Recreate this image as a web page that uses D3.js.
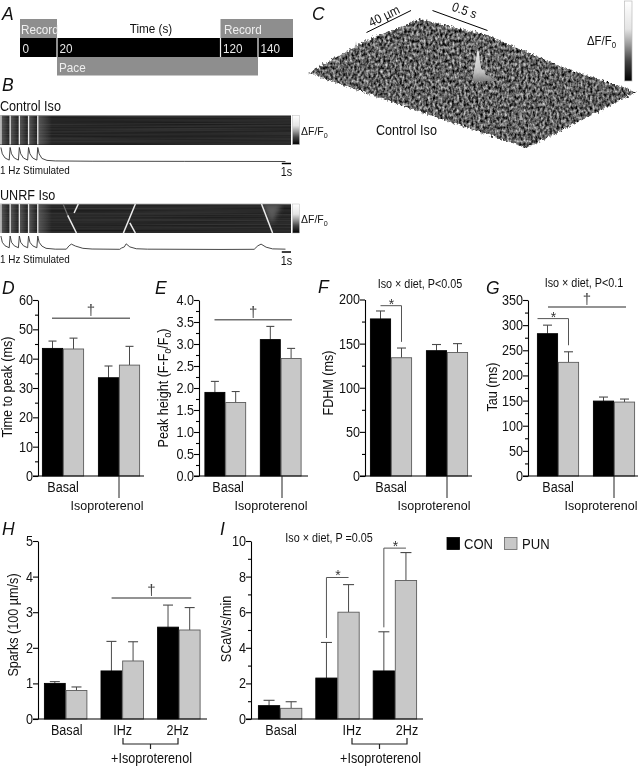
<!DOCTYPE html>
<html>
<head>
<meta charset="utf-8">
<script src="https://cdn.jsdelivr.net/npm/d3@7"></script>
<style>
    html, body { margin: 0; padding: 0; background: #fff; }
    svg { display: block; filter: blur(0.35px); }
    text { font-family: "Liberation Sans", Arial, sans-serif; fill: #111; }
</style>
</head>
<body>
<div id="chart"></div>
<script>
// Bar panel values (mean and top of the error bar)
const groupsIso = ['Basal', 'Isoproterenol'];
const groupsHz = ['Basal', 'IHz', '2Hz'];

const peakTimeCon = [43.5, 33.5];
const peakTimeConTop = [46, 37.5];
const peakTimePun = [43.3, 37.8];
const peakTimePunTop = [47, 44.2];

const peakHeightCon = [1.9, 3.1];
const peakHeightConTop = [2.15, 3.4];
const peakHeightPun = [1.67, 2.67];
const peakHeightPunTop = [1.92, 2.9];

const fdhmCon = [178, 142];
const fdhmConTop = [187, 149];
const fdhmPun = [134, 140];
const fdhmPunTop = [145, 150];

const tauCon = [283, 149];
const tauConTop = [300, 157];
const tauPun = [226, 147];
const tauPunTop = [247, 153];

const sparksCon = [1.0, 1.35, 2.58];
const sparksConTop = [1.05, 2.18, 3.2];
const sparksPun = [0.8, 1.63, 2.5];
const sparksPunTop = [0.9, 2.17, 3.13];

const scawsCon = [0.75, 2.3, 2.7];
const scawsConTop = [1.05, 4.3, 4.9];
const scawsPun = [0.6, 6.0, 7.78];
const scawsPunTop = [0.97, 7.55, 9.35];

// Protocol timeline (seconds)
const protocolTicks = [0, 20, 120, 140];
const recordWindows = [[0, 20], [120, 160]];
const paceWindow = [20, 140];

// Line scan traces: [seconds, relative fluorescence]
const pulseTimes = [0.1, 1.1, 2.1, 3.1, 4.1];
const controlTrace = [[0.1, 1], [0.25, 0.55], [0.55, 0.25], [1.0, 0.1], [1.1, 1], [1.25, 0.55], [1.55, 0.25], [2.0, 0.1], [2.1, 1], [2.25, 0.55], [2.55, 0.25], [3.0, 0.1], [3.1, 1], [3.25, 0.55], [3.55, 0.25], [4.0, 0.1], [4.1, 1], [4.25, 0.55], [4.55, 0.22], [5.1, 0.08], [6, 0.04], [10, 0.02], [20, 0.01], [31, 0]];
const unrfTrace = [[0.1, 1], [0.25, 0.55], [0.55, 0.3], [1.0, 0.16], [1.1, 1], [1.25, 0.55], [1.55, 0.3], [2.0, 0.16], [2.1, 1], [2.25, 0.55], [2.55, 0.3], [3.0, 0.16], [3.1, 1], [3.25, 0.55], [3.55, 0.3], [4.0, 0.16], [4.1, 1], [4.25, 0.55], [4.55, 0.28], [5.0, 0.12], [6, 0.06], [7.2, 0.06], [7.5, 0.3], [7.75, 0.42], [8.2, 0.28], [9, 0.12], [10, 0.07], [13, 0.05], [13.2, 0.14], [13.5, 0.22], [13.7, 0.44], [14.1, 0.22], [14.8, 0.09], [16, 0.06], [24, 0.04], [27.6, 0.05], [28, 0.3], [28.35, 0.42], [28.9, 0.2], [29.6, 0.08], [31, 0.06]];

// Spontaneous waves in the UNRF scan: [seconds, depth 0-1]
const waveSegments = [
    [[7.35, 0.39], [8.3, 1]],
    [[8.5, 0], [8.05, 0.31]],
    [[14.7, 0], [13.4, 1]],
    [[14.1, 0.65], [14.7, 1]],
    [[28.4, 0], [29.6, 1]]
];
const faintWave = [[6.85, 0], [7.35, 0.39]];
const waveTail = [[28.5, 0], [30.6, 0], [29.5, 0.7]];

// Spark rising from the 3D surface: offset along the surface and height
const sparkOffset = [-6, -4, -2, -0.5, 0.5, 2, 4, 6, 8, 11, 15, 20];
const sparkHeight = [0, 10, 22, 29, 29, 19, 11, 11, 6, 5, 2, 0];
const smallPeakOffset = [-3, -1, 0, 1, 3];
const smallPeakHeight = [0, 6, 14, 6, 0];

const width = 640;
const height = 766;
const narrow = 0.9;

const svg = d3.select('#chart').append('svg')
    .attr('width', width)
    .attr('height', height);

const defs = svg.append('defs');

// Dark-to-light colour bar gradient
const barGrad = defs.append('linearGradient').attr('id', 'colorBar')
    .attr('x1', 0).attr('y1', 0).attr('x2', 0).attr('y2', 1);
[['0%', '#ffffff'], ['35%', '#e4e4e4'], ['55%', '#999999'], ['75%', '#444444'], ['100%', '#000000']]
    .forEach(s => barGrad.append('stop').attr('offset', s[0]).attr('stop-color', s[1]));

// Fading glow behind each paced transient
const decayGrad = defs.append('linearGradient').attr('id', 'decay');
decayGrad.append('stop').attr('offset', '0%').attr('stop-color', '#8a8a8a').attr('stop-opacity', 0.5);
decayGrad.append('stop').attr('offset', '100%').attr('stop-color', '#8a8a8a').attr('stop-opacity', 0);

const sparkGrad = defs.append('linearGradient').attr('id', 'sparkFill')
    .attr('x1', 0).attr('y1', 0).attr('x2', 0).attr('y2', 1);
sparkGrad.append('stop').attr('offset', '0%').attr('stop-color', '#f4f4f4');
sparkGrad.append('stop').attr('offset', '70%').attr('stop-color', '#c4c4c4');
sparkGrad.append('stop').attr('offset', '100%').attr('stop-color', '#808080');

// Horizontal streaks of the line scan images (grey comes from the noise alpha)
defs.append('filter').attr('id', 'streaks').call(f => {
    f.attr('x', 0).attr('y', 0).attr('width', 1).attr('height', 1)
        .attr('color-interpolation-filters', 'sRGB');
    f.append('feTurbulence').attr('type', 'fractalNoise')
        .attr('baseFrequency', '0.004 0.7').attr('numOctaves', 2).attr('seed', 3);
    f.append('feColorMatrix').attr('type', 'matrix')
        .attr('values', '0 0 0 0.18 0.07  0 0 0 0.18 0.07  0 0 0 0.18 0.07  0 0 0 0 1');
});

// Speckled relief of the 3D surface, also roughens its edge
defs.append('filter').attr('id', 'relief').call(f => {
    f.attr('x', '-3%').attr('y', '-6%').attr('width', '106%').attr('height', '112%')
        .attr('color-interpolation-filters', 'sRGB');
    f.append('feTurbulence').attr('type', 'fractalNoise')
        .attr('baseFrequency', '0.42 0.3').attr('numOctaves', 2).attr('seed', 8).attr('result', 'noise');
    f.append('feColorMatrix').attr('in', 'noise').attr('type', 'matrix')
        .attr('values', '0 0 0 1.3 -0.27  0 0 0 1.3 -0.27  0 0 0 1.3 -0.27  0 0 0 0 1').attr('result', 'grey');
    f.append('feDisplacementMap').attr('in', 'SourceGraphic').attr('in2', 'noise')
        .attr('scale', 6).attr('xChannelSelector', 'R').attr('yChannelSelector', 'G').attr('result', 'shape');
    f.append('feComposite').attr('in', 'grey').attr('in2', 'shape').attr('operator', 'in');
});

defs.append('filter').attr('id', 'soft').append('feGaussianBlur').attr('stdDeviation', 2.5);

// Text helper, "_0" turns into a subscript, text is narrowed like the figure's face
function label(parent, x, y, str, opts = {}) {
    const t = parent.append('text')
        .attr('x', x)
        .attr('y', y)
        .attr('font-size', opts.size || 14)
        .attr('text-anchor', opts.anchor || 'start');
    if (opts.fill) t.style('fill', opts.fill);
    if (opts.italic) t.attr('font-style', 'italic');
    if (opts.rotate !== undefined) t.attr('transform', `rotate(${opts.rotate},${x},${y})`);
    str.split('_0').forEach((part, i) => {
        if (i > 0) {
            t.append('tspan').attr('font-size', (opts.size || 14) * 0.68).attr('dy', 3).text('0');
            if (part) t.append('tspan').attr('dy', -3).text(part);
        } else {
            t.append('tspan').text(part);
        }
    });
    const squeeze = opts.squeeze || narrow;
    if (squeeze !== 1) {
        const len = t.node().getComputedTextLength();
        t.attr('textLength', len * squeeze).attr('lengthAdjust', 'spacingAndGlyphs');
    }
    return t;
}

// Panel letters
[['A', 2, 20], ['B', 2, 91], ['C', 312, 20], ['D', 2, 294], ['E', 155, 294],
 ['F', 318, 293], ['G', 486, 294], ['H', 2, 535], ['I', 220, 535]].forEach(d => {
    label(svg, d[1], d[2], d[0], {size: 17.5, italic: true, squeeze: 1});
});

// ---- Panel A: protocol timeline ----
const protocol = svg.append('g');
const tScale = d3.scaleLinear().domain([0, 20, 120, 140, 160]).range([20, 57, 220.5, 258, 293]);

recordWindows.forEach(w => {
    protocol.append('rect')
        .attr('x', tScale(w[0])).attr('y', 19)
        .attr('width', tScale(w[1]) - tScale(w[0])).attr('height', 19)
        .attr('fill', '#8e8e8e');
});
protocol.append('rect')
    .attr('x', tScale(0)).attr('y', 38)
    .attr('width', tScale(160) - tScale(0)).attr('height', 19)
    .attr('fill', '#000');
protocol.append('rect')
    .attr('x', tScale(paceWindow[0])).attr('y', 57)
    .attr('width', tScale(paceWindow[1]) - tScale(paceWindow[0])).attr('height', 18.5)
    .attr('fill', '#8e8e8e');

protocolTicks.forEach(t => {
    if (t > 0) {
        protocol.append('line')
            .attr('x1', tScale(t)).attr('x2', tScale(t))
            .attr('y1', 38).attr('y2', 57)
            .attr('stroke', '#eee').attr('stroke-width', 1.2);
    }
    label(protocol, tScale(t) + 2.5, 53, String(t), {size: 13, fill: '#e8e8e8'});
});
label(protocol, 21, 34, 'Record', {size: 13, fill: '#f0f0f0'});
label(protocol, 224, 34, 'Record', {size: 13, fill: '#f0f0f0'});
label(protocol, 59, 72, 'Pace', {size: 13, fill: '#eeeeee'});
label(protocol, 151, 33, 'Time (s)', {size: 13, anchor: 'middle'});

// ---- Panel B: line scans ----
const scanX = d3.scaleLinear().domain([0, 31.6]).range([0, 291]);

function drawScan(top, title, trace, waves, endT, clipId) {
    const g = svg.append('g');
    const scanH = 29;
    const scanY = d3.scaleLinear().domain([0, 1]).range([top, top + scanH]);

    defs.append('clipPath').attr('id', clipId).append('rect')
        .attr('x', 0).attr('y', top).attr('width', 291).attr('height', scanH);

    label(g, 0, top - 4.5, title, {size: 14});

    g.append('rect').attr('x', 0).attr('y', top).attr('width', 291).attr('height', scanH)
        .attr('fill', '#222').attr('filter', 'url(#streaks)');
    g.append('line').attr('x1', 0).attr('x2', 291).attr('y1', top).attr('y2', top)
        .attr('stroke', '#aaa').attr('stroke-width', 0.8);

    pulseTimes.forEach((t, i) => {
        const glow = i === pulseTimes.length - 1 ? 14 : 8;
        g.append('rect')
            .attr('x', scanX(t)).attr('y', top + 0.5)
            .attr('width', glow).attr('height', scanH - 0.5)
            .attr('fill', 'url(#decay)');
    });
    pulseTimes.forEach(t => {
        g.append('line')
            .attr('x1', scanX(t)).attr('x2', scanX(t))
            .attr('y1', top).attr('y2', top + scanH)
            .attr('stroke', '#e8e8e8').attr('stroke-width', 1.3);
    });

    const waveLine = d3.line().x(d => scanX(d[0])).y(d => scanY(d[1]));
    if (waves.length) {
        // grey tail left behind the slow wave on the right
        g.append('g').attr('clip-path', `url(#${clipId})`).append('path')
            .attr('d', waveLine(waveTail) + 'Z')
            .attr('fill', '#5c5c5c')
            .attr('filter', 'url(#soft)');
        g.append('path').attr('d', waveLine(faintWave))
            .attr('fill', 'none').attr('stroke', '#6e6e6e').attr('stroke-width', 1.2);
    }
    waves.forEach(w => {
        g.append('path').attr('d', waveLine(w))
            .attr('fill', 'none').attr('stroke', '#ececec').attr('stroke-width', 1.5);
    });

    // colour bar
    g.append('rect').attr('x', 292.5).attr('y', top).attr('width', 7).attr('height', scanH)
        .attr('fill', 'url(#colorBar)').attr('stroke', '#bbb').attr('stroke-width', 0.5);
    label(g, 301, top + 19, '\u0394F/F_0', {size: 10.5, squeeze: 1});

    // trace under the image
    const traceY = d3.scaleLinear().domain([0, 1]).range([top + 46, top + 32]);
    const traceLine = d3.line().x(d => scanX(d[0])).y(d => traceY(d[1]));
    g.append('path')
        .datum(trace.filter(d => d[0] <= endT))
        .attr('d', traceLine)
        .attr('fill', 'none').attr('stroke', '#333').attr('stroke-width', 0.9);

    label(g, 0, top + 58.5, '1 Hz Stimulated', {size: 11});
    g.append('line')
        .attr('x1', scanX(30.6)).attr('x2', scanX(31.6))
        .attr('y1', top + 48).attr('y2', top + 48)
        .attr('stroke', '#000').attr('stroke-width', 1.5);
    label(g, 286.5, top + 60.5, '1s', {size: 12, anchor: 'middle'});
}

drawScan(115.5, 'Control Iso', controlTrace, [], 31.6, 'clipControl');
drawScan(204, 'UNRF Iso', unrfTrace, waveSegments, 31, 'clipUnrf');

// ---- Panel C: 3D surface ----
const surface = svg.append('g');
const surfacePath = d3.line();
surface.append('path')
    .attr('d', surfacePath([[308, 73], [365, 41], [420, 19], [487, 35], [560, 66], [637, 92], [527, 148], [400, 105]]) + 'Z')
    .attr('fill', '#000')
    .attr('filter', 'url(#relief)');

const sparkX = d3.scaleLinear().domain([-6, 20]).range([472, 498]);
const sparkY = d3.scaleLinear().domain([0, 30]).range([81, 50]);
surface.append('path')
    .attr('d', d3.area()
        .x((d, i) => sparkX(sparkOffset[i]))
        .y0(sparkY(0))
        .y1(d => sparkY(d))
        .curve(d3.curveMonotoneX)(sparkHeight))
    .attr('fill', 'url(#sparkFill)')
    .attr('opacity', 0.95);

// two fainter events
[[521, 120, 2, 12], [356, 48, 1.5, 7]].forEach(p => {
    const px = d3.scaleLinear().domain([-3, 3]).range([p[0] - p[2], p[0] + p[2]]);
    const py = d3.scaleLinear().domain([0, 14]).range([p[1], p[1] - p[3]]);
    surface.append('path')
        .attr('d', d3.area()
            .x((d, i) => px(smallPeakOffset[i]))
            .y0(py(0))
            .y1(d => py(d))(smallPeakHeight))
        .attr('fill', '#a8a8a8');
});

surface.append('line').attr('x1', 366.5).attr('y1', 32.5).attr('x2', 411).attr('y2', 10.5)
    .attr('stroke', '#000').attr('stroke-width', 1);
surface.append('line').attr('x1', 432.5).attr('y1', 10.5).attr('x2', 487.5).attr('y2', 30.5)
    .attr('stroke', '#000').attr('stroke-width', 1);
label(surface, 386, 20, '40 \u00b5m', {size: 13, anchor: 'middle', rotate: -26});
label(surface, 463, 14.5, '0.5 s', {size: 13, anchor: 'middle', rotate: 20});

surface.append('rect').attr('x', 624.5).attr('y', 1).attr('width', 7.5).attr('height', 80)
    .attr('fill', 'url(#colorBar)').attr('stroke', '#bbb').attr('stroke-width', 0.7);
label(surface, 587, 45, '\u0394F/F_0', {size: 12, squeeze: 0.95});
label(surface, 376, 135, 'Control Iso', {size: 14});

// ---- Bar panels ----
const conColor = '#000';
const punColor = '#c8c8c8';
const sigColor = '#6f6f6f';

function barPanel(p) {
    const g = svg.append('g');
    const y = d3.scaleLinear().domain([0, p.yMax]).range([p.y0, p.y1]);
    const x0 = d3.scaleBand().domain(p.groups).range(p.xRange).paddingInner(p.gap).paddingOuter(0);
    const x1 = d3.scaleBand().domain(['CON', 'PUN']).range([0, x0.bandwidth()]);
    const center = (group, series) => x0(group) + x1(series) + x1.bandwidth() / 2;

    const rows = p.groups.map((group, i) => ({group, con: p.con[i], conTop: p.conTop[i], pun: p.pun[i], punTop: p.punTop[i]}));

    [['CON', 'con', 'conTop'], ['PUN', 'pun', 'punTop']].forEach(s => {
        // error bars go first so the bars sit on top of them
        g.selectAll(null).data(rows).enter().append('line')
            .attr('x1', d => center(d.group, s[0])).attr('x2', d => center(d.group, s[0]))
            .attr('y1', d => y(d[s[1]])).attr('y2', d => y(d[s[2]]))
            .attr('stroke', '#4a4a4a').attr('stroke-width', 1);
        g.selectAll(null).data(rows).enter().append('line')
            .attr('x1', d => center(d.group, s[0]) - p.cap / 2).attr('x2', d => center(d.group, s[0]) + p.cap / 2)
            .attr('y1', d => y(d[s[2]])).attr('y2', d => y(d[s[2]]))
            .attr('stroke', '#4a4a4a').attr('stroke-width', 1.1);
        g.selectAll(null).data(rows).enter().append('rect')
            .attr('x', d => x0(d.group) + x1(s[0]) + 0.4)
            .attr('y', d => y(d[s[1]]))
            .attr('width', x1.bandwidth() - 0.8)
            .attr('height', d => y(0) - y(d[s[1]]))
            .attr('fill', s[0] === 'CON' ? conColor : punColor)
            .attr('stroke', s[0] === 'CON' ? '#000' : '#5c5c5c')
            .attr('stroke-width', 0.9);
    });

    // axes
    const yAxis = g.append('g').attr('transform', `translate(${p.xAxis},0)`)
        .call(d3.axisLeft(y).tickValues(p.ticks).tickFormat(p.format || d3.format('d')).tickSize(5).tickPadding(0).tickSizeOuter(0));
    if (p.minor) {
        g.append('g').attr('transform', `translate(${p.xAxis},0)`)
            .call(d3.axisLeft(y).tickValues(p.minor).tickFormat('').tickSize(3).tickSizeOuter(0))
            .call(a => a.select('.domain').remove());
    }
    g.selectAll('.domain, .tick line').attr('stroke', '#000').attr('stroke-width', 1.1);
    yAxis.selectAll('text')
        .attr('font-size', 14)
        .style('font-family', '"Liberation Sans", Arial, sans-serif')
        .style('fill', '#111')
        .each(function() {
            const len = this.getComputedTextLength();
            d3.select(this).attr('textLength', len * narrow).attr('lengthAdjust', 'spacingAndGlyphs');
        });
    g.append('line')
        .attr('x1', p.xAxis - 5).attr('x2', p.xEnd)
        .attr('y1', y(0)).attr('y2', y(0))
        .attr('stroke', '#000').attr('stroke-width', 1.2);

    label(g, p.yLabel[0], p.yLabel[1], p.yTitle, {size: 14, anchor: 'middle', rotate: -90});

    if (p.title) label(g, p.title[1], p.title[2], p.title[0], {size: 12, anchor: 'middle'});

    // significance lines
    (p.spans || []).forEach(s => {
        const a = x0(p.groups[s.from]) + s.fromDx;
        const b = x0(p.groups[s.to]) + s.toDx;
        g.append('line').attr('x1', a).attr('x2', b).attr('y1', y(s.at)).attr('y2', y(s.at))
            .attr('stroke', sigColor).attr('stroke-width', 1.4);
        label(g, (a + b) / 2, y(s.at) - 3, '\u2020', {size: 15, anchor: 'middle', squeeze: 1, fill: '#444'});
    });
    (p.brackets || []).forEach(b => {
        const a = center(b.group, 'CON') + (b.dx || 0);
        const e = center(b.group, 'PUN');
        const pts = b.down === 'left'
            ? [[a, y(b.end)], [a, y(b.at)], [e, y(b.at)]]
            : [[a, y(b.at)], [e, y(b.at)], [e, y(b.end)]];
        g.append('path').attr('d', d3.line()(pts))
            .attr('fill', 'none').attr('stroke', '#555').attr('stroke-width', 1);
        label(g, (a + e) / 2 + 0.5, y(b.at) + 3, '*', {size: 14, anchor: 'middle', squeeze: 1, fill: '#333'});
    });

    return {g, x0, y, center};
}

const isoFormat = d3.format('.1f');

[
    {groups: groupsIso, con: peakTimeCon, conTop: peakTimeConTop, pun: peakTimePun, punTop: peakTimePunTop,
     yMax: 60, ticks: d3.range(0, 61, 10), minor: d3.range(5, 60, 10),
     xRange: [42, 140], gap: 0.25, xAxis: 38, xEnd: 144, cap: 8, y0: 476, y1: 300,
     yTitle: 'Time to peak (ms)', yLabel: [12, 387],
     spans: [{from: 0, to: 1, fromDx: 10, toDx: 32, at: 53.8}],
     basal: 63, iso: 107, stem: 119},
    {groups: groupsIso, con: peakHeightCon, conTop: peakHeightConTop, pun: peakHeightPun, punTop: peakHeightPunTop,
     yMax: 4, ticks: d3.range(0, 4.01, 0.5), minor: d3.range(0.25, 4, 0.5), format: isoFormat,
     xRange: [204.5, 301.5], gap: 0.25, xAxis: 199, xEnd: 308, cap: 8, y0: 476, y1: 300,
     yTitle: 'Peak height (F-F_0/F_0)', yLabel: [168, 388],
     spans: [{from: 0, to: 1, fromDx: 10, toDx: 32, at: 3.55}],
     basal: 228, iso: 271, stem: 282},
    {groups: groupsIso, con: fdhmCon, conTop: fdhmConTop, pun: fdhmPun, punTop: fdhmPunTop,
     yMax: 200, ticks: d3.range(0, 201, 50), minor: d3.range(25, 200, 50),
     xRange: [370, 468], gap: 0.25, xAxis: 365, xEnd: 472, cap: 9, y0: 476, y1: 299.5,
     yTitle: 'FDHM (ms)', yLabel: [333, 383], title: ['Iso \u00d7 diet, P<0.05', 420, 288],
     brackets: [{group: 'Basal', at: 193, end: 152}],
     basal: 391, iso: 434, stem: 447},
    {groups: groupsIso, con: tauCon, conTop: tauConTop, pun: tauPun, punTop: tauPunTop,
     yMax: 350, ticks: d3.range(0, 351, 50), minor: d3.range(25, 350, 50),
     xRange: [537, 635], gap: 0.25, xAxis: 528, xEnd: 638, cap: 9, y0: 476, y1: 300,
     yTitle: 'Tau (ms)', yLabel: [497, 387], title: ['Iso \u00d7 diet, P<0.1', 584, 287],
     spans: [{from: 0, to: 1, fromDx: 11, toDx: 33, at: 336}],
     brackets: [{group: 'Basal', at: 313, end: 260, dx: -10}],
     basal: 558, iso: 601, stem: 614}
].forEach(p => {
    const panel = barPanel(p);
    label(panel.g, p.basal, 492, 'Basal', {size: 14, anchor: 'middle'});
    label(panel.g, p.iso, 510, 'Isoproterenol', {size: 13, anchor: 'middle', squeeze: 0.96});
    panel.g.append('line')
        .attr('x1', p.stem).attr('x2', p.stem).attr('y1', 476).attr('y2', 498)
        .attr('stroke', '#222').attr('stroke-width', 1);
});

[
    {groups: groupsHz, con: sparksCon, conTop: sparksConTop, pun: sparksPun, punTop: sparksPunTop,
     yMax: 5, ticks: d3.range(0, 6),
     xRange: [44, 200.5], gap: 0.235, xAxis: 38, xEnd: 207, cap: 10, y0: 719, y1: 541,
     yTitle: 'Sparks (100 \u00b5m/s)', yLabel: [17.5, 625],
     spans: [{from: 1, to: 2, fromDx: 11, toDx: 34, at: 3.4}],
     labels: [66.7, 122.7, 177.7], bracket: [123, 178]},
    {groups: groupsHz, con: scawsCon, conTop: scawsConTop, pun: scawsPun, punTop: scawsPunTop,
     yMax: 10, ticks: d3.range(0, 11, 2), minor: d3.range(1, 10, 2),
     xRange: [258, 417], gap: 0.23, xAxis: 251, xEnd: 423, cap: 11, y0: 719, y1: 541,
     yTitle: 'SCaWs/min', yLabel: [231, 629], title: ['Iso \u00d7 diet, P =0.05', 329, 542],
     brackets: [{group: 'IHz', at: 7.95, end: 4.55, down: 'left'}, {group: '2Hz', at: 9.6, end: 5.15, down: 'left'}],
     labels: [281, 352, 407], bracket: [352, 407]}
].forEach(p => {
    const panel = barPanel(p);
    p.groups.forEach((group, i) => label(panel.g, p.labels[i], 735, group, {size: 14, anchor: 'middle'}));
    const mid = (p.bracket[0] + p.bracket[1]) / 2;
    panel.g.append('path')
        .attr('d', d3.line()([[p.bracket[0], 738], [p.bracket[0], 744], [p.bracket[1], 744], [p.bracket[1], 738]]))
        .attr('fill', 'none').attr('stroke', '#222').attr('stroke-width', 1.2);
    panel.g.append('line').attr('x1', mid).attr('x2', mid).attr('y1', 744).attr('y2', 749)
        .attr('stroke', '#222').attr('stroke-width', 1.2);
    label(panel.g, mid + 1, 763, '+Isoproterenol', {size: 14, anchor: 'middle'});
});

// Legend
const legendItems = [['CON', conColor, '#000', 447, 464], ['PUN', punColor, '#666', 504.5, 522]];
legendItems.forEach(d => {
    svg.append('rect').attr('x', d[3]).attr('y', 537.5).attr('width', 12.5).attr('height', 12)
        .attr('fill', d[1]).attr('stroke', d[2]).attr('stroke-width', 0.8);
    label(svg, d[4], 548.5, d[0], {size: 14.5});
});
</script>
</body>
</html>
